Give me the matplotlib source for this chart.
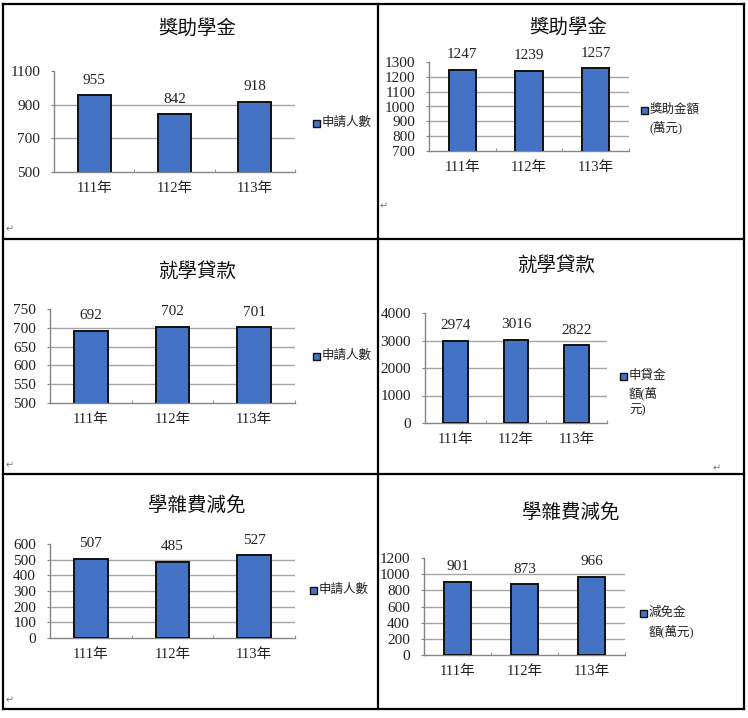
import numpy as np
import matplotlib
matplotlib.use('Agg')
import matplotlib.pyplot as plt
from matplotlib.lines import Line2D
from matplotlib.patches import Rectangle

plt.rcParams['font.family'] = ['Liberation Serif', 'Noto Sans CJK TC']

W, H = 748, 718

# data
years = ['111年', '112年', '113年']

scholarship_count = [955, 842, 918]
scholarship_amount = [1247, 1239, 1257]
loan_count = [692, 702, 701]
loan_amount = [2974, 3016, 2822]
waiver_count = [507, 485, 527]
waiver_amount = [901, 873, 966]

scholarship_count_ticks = [500, 700, 900, 1100]
scholarship_amount_ticks = [700, 800, 900, 1000, 1100, 1200, 1300]
loan_count_ticks = [500, 550, 600, 650, 700, 750]
loan_amount_ticks = [0, 1000, 2000, 3000, 4000]
waiver_count_ticks = [0, 100, 200, 300, 400, 500, 600]
waiver_amount_ticks = [0, 200, 400, 600, 800, 1000, 1200]

titles = ['獎助學金', '獎助學金', '就學貸款', '就學貸款', '學雜費減免', '學雜費減免']
series_names = ['申請人數', '獎助金額\n(萬元)', '申請人數',
                '申貸金\n額(萬\n元)', '申請人數', '減免金\n額(萬元)']

# layout in pixels: plot area (left, top, right, bottom), title (x, y),
# legend square (x, y), line spacing
layout = [
    ((54, 71, 295, 172), (197, 28), (313, 123), 17),
    ((429, 62, 629, 151), (568, 27), (641, 110), 17),
    ((50, 309, 295, 403), (197, 271), (313, 356), 17),
    ((425, 313, 607, 423), (556, 265), (620, 376), 17),
    ((50, 544, 295, 638), (197, 505), (310, 590), 17),
    ((424, 558, 625, 655), (571, 512), (640, 613), 18),
]

panels = [
    (scholarship_count, scholarship_count_ticks),
    (scholarship_amount, scholarship_amount_ticks),
    (loan_count, loan_count_ticks),
    (loan_amount, loan_amount_ticks),
    (waiver_count, waiver_count_ticks),
    (waiver_amount, waiver_amount_ticks),
]

BAR = '#4472C4'
AXIS = '#858585'
GRID = '#a6a6a6'


def fx(x):
    return x / W


def fy(y):
    return 1 - y / H


fig = plt.figure(figsize=(W / 100, H / 100), dpi=100)
fig.patch.set_facecolor('white')

for i, ((vals, ticks), lay) in enumerate(zip(panels, layout)):
    (l, t, r, b), (tx, ty), (lx, ly), lsp = lay
    ax = fig.add_axes([fx(l), fy(b), fx(r - l), (b - t) / H])
    x = np.arange(len(years))

    for g in ticks[1:-1]:
        ax.axhline(g, color=GRID, lw=1, zorder=1)

    bars = ax.bar(x, vals, width=0.41, color=BAR, edgecolor='#111111',
                  linewidth=1.4, zorder=3)
    for bx, v in zip(x, vals):
        ax.annotate(str(v), (bx, v), xytext=(0, 11), textcoords='offset points',
                    ha='center', va='center', fontsize=11, color='#222222')

    ax.set_xlim(-0.5, 2.5)
    ax.set_ylim(ticks[0], ticks[-1])
    ax.set_yticks(ticks)
    ax.set_xticks(x)
    ax.set_xticklabels(years)
    ax.set_xticks([-0.5, 0.5, 1.5, 2.5], minor=True)

    for s in ['top', 'right']:
        ax.spines[s].set_visible(False)
    for s in ['left', 'bottom']:
        ax.spines[s].set_color(AXIS)
        ax.spines[s].set_linewidth(1)

    ax.tick_params(axis='y', direction='out', length=2.5, color=AXIS,
                   pad=7.5, labelsize=11, labelcolor='#222222')
    ax.tick_params(axis='x', which='major', length=0, pad=7,
                   labelsize=10.5, labelcolor='#222222')
    ax.tick_params(axis='x', which='minor', direction='in', length=2.5,
                   color=AXIS)
    ax.set_facecolor('none')

    fig.text(fx(tx), fy(ty), titles[i], ha='center', va='center',
             fontsize=14, family='Noto Sans CJK TC', color='#111111')

    # legend
    sq = 7
    fig.patches.append(Rectangle((fx(lx), fy(ly + sq / 2)), sq / W, sq / H,
                                 transform=fig.transFigure, facecolor=BAR,
                                 edgecolor='#111111', lw=1))
    for k, line in enumerate(series_names[i].split('\n')):
        fig.text(fx(lx + sq + 2), fy(ly + k * lsp), line, ha='left',
                 va='center', fontsize=9, color='#222222')

# table borders
lw = 1.6
xs = [3, 378, 744]
ys = [3.5, 238.5, 474, 709]
for xv in xs:
    fig.add_artist(Line2D([fx(xv), fx(xv)], [fy(ys[0]), fy(ys[-1])],
                          color='black', lw=lw))
for yv in ys:
    fig.add_artist(Line2D([fx(xs[0]), fx(xs[-1])], [fy(yv), fy(yv)],
                          color='black', lw=lw))

# paragraph marks
for px, py in [(10, 229), (384, 206), (10, 465), (717, 468), (10, 700)]:
    fig.text(fx(px), fy(py), '\u21b5', ha='center', va='center',
             fontsize=7, color='#777777', family='DejaVu Sans')

fig.savefig('out.png', dpi=100, facecolor='white')
